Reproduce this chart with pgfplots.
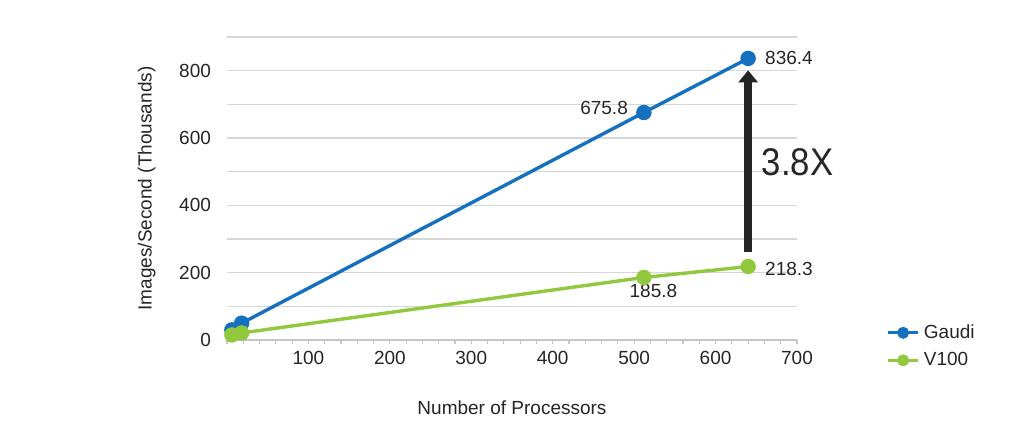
\documentclass[border=0pt]{standalone}
\usepackage{pgfplots}
\pgfplotsset{compat=1.18}
\usepackage{fontspec}
\setmainfont{Liberation Sans}
\usetikzlibrary{arrows.meta}
\definecolor{gblue}{HTML}{1570C0}
\definecolor{vgreen}{HTML}{92C83E}
\definecolor{txt}{HTML}{252525}
\definecolor{gridc}{HTML}{D6D6D6}
\begin{document}
\begin{tikzpicture}
\path[use as bounding box] (0,0) rectangle (512pt,223pt);
\begin{axis}[
  at={(113.5pt,53pt)}, anchor=south west,
  scale only axis, width=285pt, height=151.5pt,
  xmin=0, xmax=700, ymin=0, ymax=900,
  axis lines*=left,
  x axis line style={color=gridc!80!gray, line width=0.8pt, -},
  y axis line style={draw=none},
  xtick={100,200,...,700},
  minor xtick={0,20,...,700},
  tick align=outside,
  x tick style={color=gridc!80!gray, line width=0.6pt},
  major tick length=2pt, minor tick length=2pt,
  ytick={0,200,...,800},
  minor ytick={100,300,500,700,900},
  y tick style={draw=none},
  ymajorgrids, yminorgrids,
  major grid style={color=gridc, line width=0.8pt},
  minor grid style={color=gridc, line width=0.8pt},
  tick label style={font=\fontsize{9.5}{11}\selectfont, text=txt},
  /pgf/number format/assume math mode=true,
  yticklabel style={xshift=-2.5pt},
  xticklabel style={yshift=0pt},
  xlabel={Number of Processors},
  ylabel={Images/Second (Thousands)},
  label style={font=\fontsize{9.5}{11}\selectfont, text=txt},
  xlabel style={at={(axis description cs:0.5,-0.224)}, anchor=center},
  ylabel style={at={(axis description cs:-0.141,0.5)}, anchor=center},
  legend style={at={(axis description cs:1.1456,0.0792)}, anchor=north west,
    draw=none, fill=none, font=\fontsize{9.5}{11}\selectfont, text=txt,
    row sep=1.5pt, legend cell align=left},
  legend image code/.code={\draw[mark repeat=2,mark phase=2,#1,mark size=2.1pt]
    plot coordinates {(0cm,0cm) (0.265cm,0cm) (0.53cm,0cm)};},
  clip=false,
]
\addplot[color=gblue, line width=1.7pt, mark=*, mark size=3pt] coordinates {
  (6,30) (18,50) (512,675.8) (640,836.4)};
\addlegendentry{Gaudi}
\addplot[color=vgreen, line width=1.7pt, mark=*, mark size=3pt] coordinates {
  (6,15) (18,21) (512,185.8) (640,218.3)};
\addlegendentry{V100}
\draw[color=black!85, line width=4.35pt, -{Triangle[width=9.5pt,length=6pt]}]
  (axis cs:640,260) -- (axis cs:640,801);
\node[anchor=west, text=black!85, font=\fontsize{19.3}{22}\selectfont] at (axis cs:648,528) {\scalebox{0.9}[1]{3.8X}};
\node[anchor=west, text=txt, font=\fontsize{9.5}{11}\selectfont, xshift=5pt] at (axis cs:640,836.4) {836.4};
\node[anchor=east, text=txt, font=\fontsize{9.5}{11}\selectfont, xshift=-4.5pt, yshift=2.5pt] at (axis cs:512,675.8) {675.8};
\node[anchor=west, text=txt, font=\fontsize{9.5}{11}\selectfont, xshift=5pt, yshift=-1pt] at (axis cs:640,218.3) {218.3};
\node[anchor=center, text=txt, font=\fontsize{9.5}{11}\selectfont, xshift=4.75pt, yshift=-7pt] at (axis cs:512,185.8) {185.8};
\end{axis}
\end{tikzpicture}
\end{document}
